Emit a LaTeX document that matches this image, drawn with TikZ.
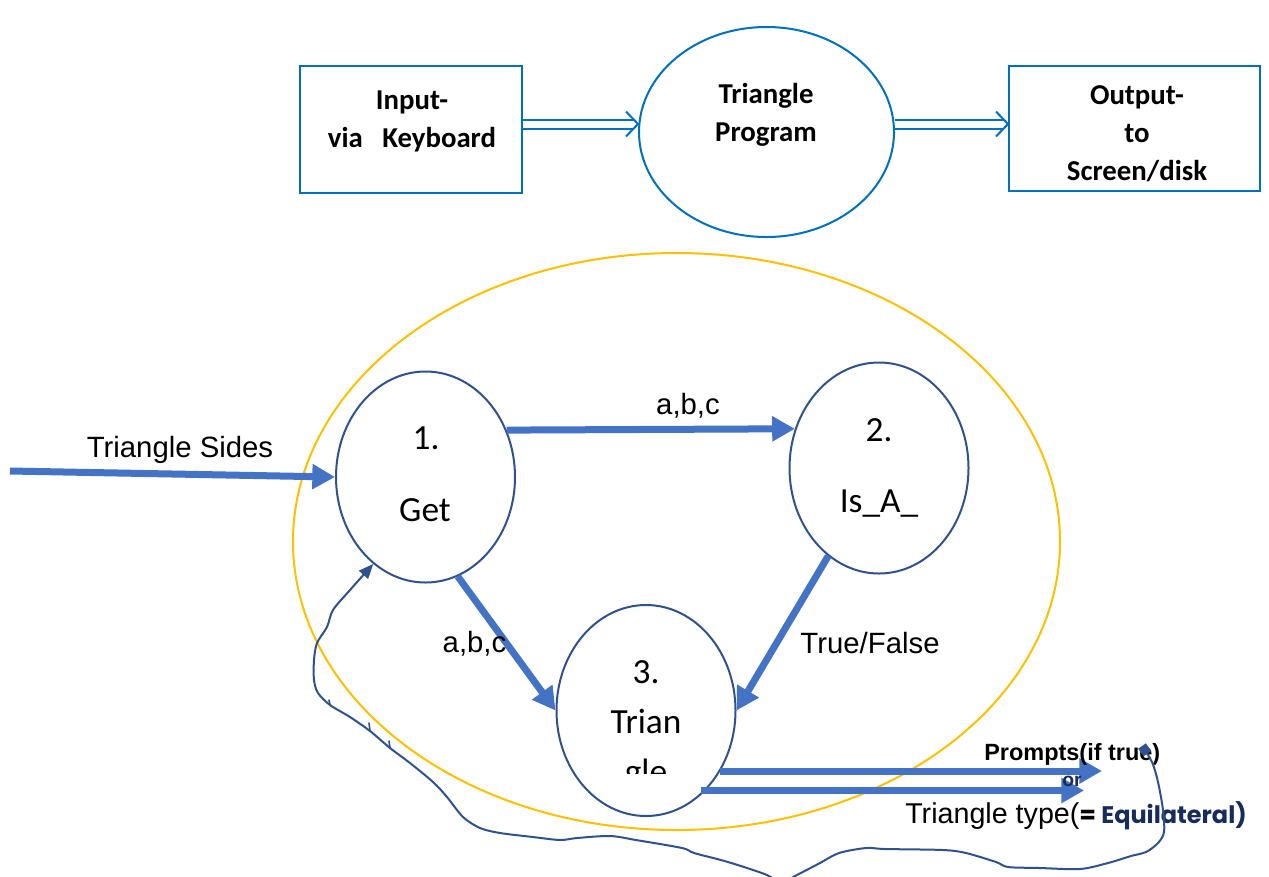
\documentclass[tikz,border=0pt]{standalone}
\usepackage{fontspec}
\setmainfont{Liberation Sans}
\newfontfamily\calfont{Carlito}
\newfontfamily\gothfont{Poppins}
\usetikzlibrary{arrows.meta,calc,shapes.geometric}
\definecolor{boxblue}{HTML}{0070C0}
\definecolor{ringblue}{HTML}{2F528F}
\definecolor{flowblue}{HTML}{4472C4}
\definecolor{ringyellow}{HTML}{FFC000}
\definecolor{navy}{HTML}{172C5C}
\begin{document}
\begin{tikzpicture}[x=0.75pt,y=-0.75pt,
  extbox/.style={draw=boxblue, line width=1.5pt, fill=white, inner sep=0},
  procring/.style={ellipse, draw=ringblue, line width=1.5pt, fill=white, inner sep=0,
    minimum width=179*0.75pt, minimum height=211*0.75pt},
  toptext/.style={font=\calfont\bfseries\fontsize{21.6}{25}\selectfont, anchor=base, inner sep=0},
  ringtext/.style={font=\calfont\fontsize{26.5}{30}\selectfont, anchor=base, inner sep=0},
  flowlabel/.style={font=\fontsize{22}{26}\selectfont, anchor=base, inner sep=0},
  flow/.style={draw=flowblue, line width=5.25pt, -{Triangle[length=17pt,width=18pt]}},
  dblline/.style={draw=boxblue, line width=1.5pt, double=white, double distance=5.25pt, shorten >=3.2pt},
  chevron/.style={draw=boxblue, line width=1.5pt, miter limit=20},
  loopline/.style={draw=ringblue, line width=1.5pt, line join=round,
    {Square[length=7pt,width=7pt]}-{Triangle[length=11pt,width=9pt]}},
  penslip/.style={draw=ringblue, line width=1.2pt, line cap=round}
]
\fill[white] (0,0) rectangle (1269,876);
\useasboundingbox (0,0) rectangle (1269,876);

% ---------- context level ----------
\node[extbox, minimum width=222*0.75pt, minimum height=127*0.75pt] (inp) at (411,129.5) {};
\node[extbox, minimum width=251*0.75pt, minimum height=125*0.75pt] (outp) at (1134.5,128.5) {};
\node[ellipse, draw=boxblue, line width=1.5pt, inner sep=0,
      minimum width=255*0.75pt, minimum height=210*0.75pt] (prog) at (766.5,132) {};

\node[toptext] (inA) at (412,109) {Input-};
\node[toptext] (inB) at (412,147) {via~~~Keyboard};
\node[toptext] (prA) at (766,103) {Triangle};
\node[toptext] (prB) at (766,141.5) {Program};
\node[toptext] (ouA) at (1137,104) {Output-};
\node[toptext] (ouB) at (1137,142) {to};
\node[toptext] (ouC) at (1137,180) {Screen/disk};

% hollow double arrows between the context elements
\coordinate (tipA) at (prog.west |- 0,124);
\coordinate (tipB) at (outp.west |- 0,124);
\draw[dblline] (inp.east |- 0,124) -- (tipA);
\draw[chevron] ($(tipA)+(-12,-12.5)$) -- (tipA) -- ($(tipA)+(-12,12.5)$);
\draw[dblline] (prog.east |- 0,124) -- (tipB);
\draw[chevron] ($(tipB)+(-12,-12.5)$) -- (tipB) -- ($(tipB)+(-12,12.5)$);

% ---------- level 1 ----------
\node[ellipse, draw=ringyellow, line width=1.5pt, inner sep=0,
      minimum width=767*0.75pt, minimum height=577*0.75pt] (scopering) at (676.5,541.5) {};

\node[procring] (g1) at (425.5,477) {};
\node[procring] (g2) at (879,468) {};
\node[procring] (g3) at (646,710.5) {};

\node[ringtext] (g1a) at (426,449) {1.};
\node[ringtext] (g1b) at (425,521) {Get};
\node[ringtext] (g2a) at (879,441) {2.};
\node[ringtext] (g2b) at (879,512) {Is\_A\_};
\node[ringtext] (g3a) at (646,683) {3.};
\node[ringtext] (g3b) at (646,733) {Trian};
\begin{scope}
  \clip (590,740) rectangle (700,773);
  \node[ringtext] (g3c) at (646,783) {gle};
\end{scope}

% data flows
\coordinate (src) at (10,471);
\draw[flow] (src) -- (g1.west);
\node[flowlabel] (lsides) at (180,457) {Triangle Sides};

\draw[flow] (g1.30) -- (g2.155);
\node[flowlabel] (labc1) at (688,414) {a,b,c};

\draw[flow] (g1.-72) -- (g3.west);
\node[flowlabel] (labc2) at (474.5,652) {a,b,c};

\draw[flow] (g2.-120) -- (g3.east);
\node[flowlabel] (ltf) at (870,653) {True/False};

\coordinate (out1) at (1102,771);
\coordinate (out2) at (1084,790.5);
\draw[flow] (g3.-40 |- out1) -- (out1);
\draw[flow] (g3.-57 |- out2) -- (out2);

\node[font=\bfseries\fontsize{17.6}{20}\selectfont, anchor=base west, inner sep=0] (lprompt) at (984,760) {Prompts(if true)};
\node[font=\bfseries\fontsize{14.5}{16}\selectfont, text=navy, anchor=base west, inner sep=0] (lor) at (1062,786) {or};
\node[font=\fontsize{21.5}{24}\selectfont, anchor=base west, inner sep=0] (ltype) at (905,823)
  {Triangle type({\gothfont\bfseries\fontsize{18}{20}\selectfont= \textcolor{navy}{Equilateral)}}};

% hand-drawn loop back to step 1
\coordinate (loopstart) at (1142,746);
\draw[loopline] plot[smooth, tension=0.5] coordinates {
  (loopstart) (1152,762) (1158,782) (1163,810) (1164,832) (1158,843) (1146,852)
  (1131,856) (1108,863) (1080,869) (1040,868) (1008,867) (996,862) (966,853)
  (943,850) (885,849) (866,848) (839,853) (820,863) (795,876) (781,883)
  (767,875) (744,867) (721,860) (694,853) (682,848) (636,840) (610,836)
  (577,838) (560,840) (533,837) (500,833) (480,828) (463,817) (447,797)
  (433,782) (410,763) (390,748) (370,731) (350,717) (330,705) (318,693)
  (314,680) (314,660) (317,643) (327,627) (333,610) (350,590) (g1.-121)};
% small pen slips along the stroke
\draw[penslip] (370,731) -- (369,723);
\draw[penslip] (390,748) -- (389,741);
\draw[penslip] (330,705) -- (329,700);
\end{tikzpicture}
\end{document}
